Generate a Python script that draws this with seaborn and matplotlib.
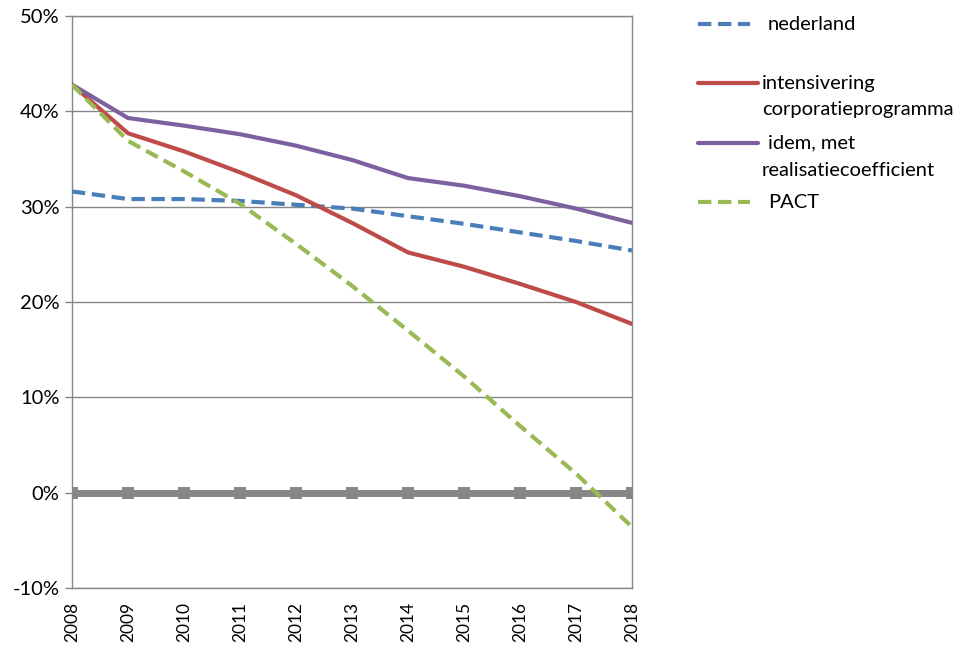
import numpy as np
import pandas as pd
import seaborn as sns
import matplotlib.pyplot as plt
from matplotlib.lines import Line2D
from matplotlib.ticker import FuncFormatter

years = [2008, 2009, 2010, 2011, 2012, 2013, 2014, 2015, 2016, 2017, 2018]

nederland = [31.6, 30.8, 30.8, 30.6, 30.2, 29.8, 29.0, 28.2, 27.3, 26.4, 25.4]
intensivering = [42.8, 37.7, 35.8, 33.6, 31.2, 28.3, 25.2, 23.7, 21.9, 20.0, 17.7]
idem_realisatie = [42.8, 39.3, 38.5, 37.6, 36.4, 34.9, 33.0, 32.2, 31.1, 29.8, 28.3]
pact = [42.8, 36.9, 33.7, 30.3, 26.1, 21.7, 17.0, 12.2, 7.0, 2.0, -3.6]
nullijn = [0.0] * len(years)

series_labels = ["nederland", "intensivering\ncorporatieprogramma",
                 "idem, met\nrealisatiecoefficient", "PACT"]

y_ticks = [-10, 0, 10, 20, 30, 40, 50]

sns.set_theme(style="white")
plt.rcParams["font.family"] = ["Lato", "DejaVu Sans"]

GRID = "#868686"
BLUE = "#4A7EBB"
RED = "#BE4B48"
PURPLE = "#7D60A0"
GREEN = "#98B954"
FS = 14.5

fig = plt.figure(figsize=(9.61, 6.47), dpi=100)
ax = fig.add_axes([72 / 961, 1 - 588 / 647, (632 - 72) / 961, (588 - 16) / 647])

# zero reference series, thick grey with square markers
sns.lineplot(x=years, y=nullijn, ax=ax, color=GRID, linewidth=5.0,
             marker="s", markersize=8, markeredgewidth=0, zorder=2)

dash = (0, (3.2, 1.6))
sns.lineplot(x=years, y=nederland, ax=ax, color=BLUE, linewidth=3.0,
             linestyle=dash, zorder=3)
sns.lineplot(x=years, y=intensivering, ax=ax, color=RED, linewidth=3.0, zorder=3)
sns.lineplot(x=years, y=idem_realisatie, ax=ax, color=PURPLE, linewidth=3.0, zorder=3)
sns.lineplot(x=years, y=pact, ax=ax, color=GREEN, linewidth=3.0,
             linestyle=dash, zorder=3)

ax.set_xlim(years[0], years[-1])
ax.set_ylim(-10, 50)
ax.set_yticks(y_ticks)
ax.yaxis.set_major_formatter(FuncFormatter(lambda v, p: f"{int(v)}%"))
ax.set_xticks(years)
ax.set_xticklabels([str(y) for y in years], rotation=90)

for v in y_ticks:
    ax.axhline(v, color=GRID, linewidth=1.0, zorder=1)

for side in ["left", "right", "top", "bottom"]:
    ax.spines[side].set_visible(True)
    ax.spines[side].set_color(GRID)
    ax.spines[side].set_linewidth(1.0)

ax.tick_params(axis="y", which="major", left=True, length=5, width=1,
               color=GRID, labelsize=FS, labelcolor="black", pad=4)
ax.tick_params(axis="x", which="major", bottom=False, labelsize=12.5,
               labelcolor="black", pad=4)
ax.set_xlabel("")
ax.set_ylabel("")

# legend drawn in figure pixel coordinates
W, H = 961, 647
entries = [
    (BLUE, dash, series_labels[0], 24, 768, 750),
    (RED, "-", series_labels[1], 83, 762, 758),
    (PURPLE, "-", series_labels[2], 143, 768, 758),
    (GREEN, dash, series_labels[3], 202, 768, 750),
]
for color, ls, label, ypx, xtext, xend in entries:
    fig.add_artist(Line2D([698 / W, xend / W], [1 - ypx / H, 1 - ypx / H],
                          color=color, linewidth=3.0, linestyle=ls,
                          transform=fig.transFigure))
    for i, part in enumerate(label.split("\n")):
        xt = xtext if i == 0 else 762
        fig.text(xt / W, 1 - (ypx + i * 27) / H, part, fontsize=FS,
                 va="center", ha="left", color="black")

fig.savefig("out.png", dpi=100)
